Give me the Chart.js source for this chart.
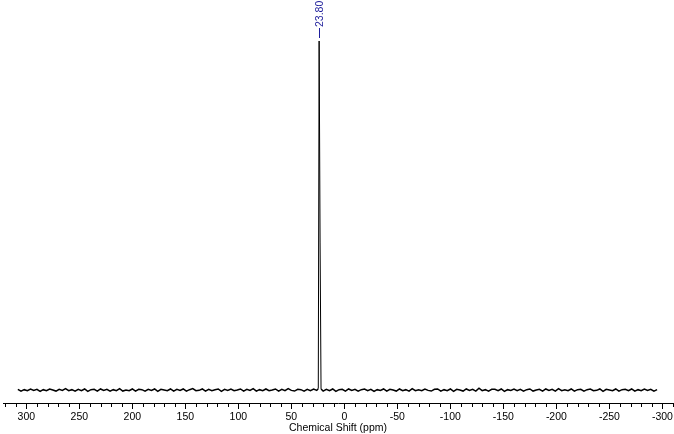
<!DOCTYPE html>
<html>
<head>
<meta charset="utf-8">
<script src="https://cdn.jsdelivr.net/npm/chart.js@4/dist/chart.umd.min.js"></script>
<style>
html,body{margin:0;padding:0;background:#fff;}
canvas{display:block;}
</style>
</head>
<body>
<canvas id="c" width="674" height="434"></canvas>
<script>
// Chemical shift (ppm) of each sampled point
const ppm = [
  308,305,302,299,296,293,290,287,284,281,
  278,275,272,269,266,263,260,257,254,251,
  248,245,242,239,236,233,230,227,224,221,
  218,215,212,209,206,203,200,197,194,191,
  188,185,182,179,176,173,170,167,164,161,
  158,155,152,149,146,143,140,137,134,131,
  128,125,122,119,116,113,110,107,104,101,
  98,95,92,89,86,83,80,77,74,71,
  68,65,62,59,56,53,50,47,44,41,
  38,35,32,29,26,24.6,23.8,22.9,22.0,20,
  17,14,11,8,5,2,-1,-4,-7,-10,
  -13,-16,-19,-22,-25,-28,-31,-34,-37,-40,
  -43,-46,-49,-52,-55,-58,-61,-64,-67,-70,
  -73,-76,-79,-82,-85,-88,-91,-94,-97,-100,
  -103,-106,-109,-112,-115,-118,-121,-124,-127,-130,
  -133,-136,-139,-142,-145,-148,-151,-154,-157,-160,
  -163,-166,-169,-172,-175,-178,-181,-184,-187,-190,
  -193,-196,-199,-202,-205,-208,-211,-214,-217,-220,
  -223,-226,-229,-232,-235,-238,-241,-244,-247,-250,
  -253,-256,-259,-262,-265,-268,-271,-274,-277,-280,
  -283,-286,-289,-292,-295
];
// Relative intensity at each point
const intensity = [
  0.2,-0.3,0.1,-0.2,0.3,-0.1,0.2,-0.4,0.1,-0.2,
  0.3,0.0,-0.3,0.2,-0.1,0.4,-0.2,0.1,-0.3,0.2,
  -0.2,0.3,-0.4,0.1,0.2,-0.3,0.3,-0.1,0.2,-0.3,
  0.1,-0.2,0.4,-0.3,0.0,-0.2,0.3,-0.3,0.2,0.1,
  -0.3,0.2,-0.1,0.3,-0.4,0.2,0.0,-0.2,0.3,-0.3,
  0.2,-0.1,0.3,-0.3,0.1,0.4,-0.2,-0.1,0.3,-0.3,
  0.2,-0.2,0.1,0.3,-0.4,0.2,-0.1,0.3,-0.2,0.0,
  0.3,-0.3,0.2,-0.1,0.4,-0.3,0.1,-0.2,0.3,-0.2,
  0.0,0.3,-0.3,0.2,-0.2,0.4,-0.1,-0.3,0.2,0.1,
  -0.3,0.2,-0.2,0.3,-0.1,0.4,100,42.4,0.3,-0.3,
  0.2,-0.2,0.3,-0.4,0.1,0.2,-0.3,0.3,-0.1,0.2,
  -0.3,0.1,0.3,-0.2,0.2,-0.4,0.1,-0.1,0.3,-0.3,
  0.2,0.0,-0.3,0.3,-0.2,0.1,-0.3,0.4,-0.2,0.1,
  -0.2,0.3,-0.1,-0.3,0.2,0.3,-0.3,0.1,-0.2,0.3,
  -0.4,0.2,0.0,-0.3,0.3,-0.1,0.2,-0.3,0.5,-0.2,
  0.1,-0.3,0.2,0.2,-0.2,0.3,-0.4,0.1,-0.1,0.3,
  -0.2,0.2,-0.3,0.1,0.3,-0.3,0.0,0.2,-0.3,0.3,
  -0.1,0.2,-0.3,0.4,-0.2,0.1,-0.2,0.3,-0.3,0.1,
  0.2,-0.3,0.1,0.3,-0.2,-0.1,0.3,-0.4,0.2,0.0,
  -0.2,0.3,-0.3,0.1,0.2,-0.2,0.3,-0.3,0.1,-0.2,
  0.3,-0.1,0.2,-0.3,0.1
];
// Peak annotation
const peakPpm = [23.8];
const peakLabels = ['23.80'];
// Axis settings
const tickValues = [300,250,200,150,100,50,0,-50,-100,-150,-200,-250,-300];
const axisMin = -310, axisMax = 322;
const labelStep = 50, minorStep = 10;
const axisTitle = 'Chemical Shift (ppm)';

const FONT = "'Liberation Sans', Arial, sans-serif";

const points = ppm.map((p, i) => ({x: p, y: intensity[i]}));

const tickPlugin = {
  id: 'nmrTicks',
  afterDraw(chart) {
    const xs = chart.scales.x;
    const ctx = chart.ctx;
    const y0 = chart.chartArea.bottom;
    ctx.save();
    ctx.strokeStyle = '#000';
    ctx.lineWidth = 1;
    ctx.beginPath();
    const start = Math.ceil(axisMin / minorStep) * minorStep;
    for (let v = start; v <= axisMax; v += minorStep) {
      const px = Math.round(xs.getPixelForValue(v)) + 0.5;
      const len = (v % labelStep === 0) ? 6 : 4;
      ctx.moveTo(px, y0);
      ctx.lineTo(px, y0 + len);
    }
    ctx.stroke();
    // peak labels
    ctx.strokeStyle = '#1f1f9c';
    ctx.fillStyle = '#1f1f9c';
    ctx.font = '10.5px ' + FONT;
    peakPpm.forEach((p, i) => {
      const px = Math.round(xs.getPixelForValue(p)) + 0.5;
      ctx.beginPath();
      ctx.moveTo(px, 28);
      ctx.lineTo(px, 38);
      ctx.stroke();
      ctx.save();
      ctx.translate(px + 0.5, 27);
      ctx.rotate(-Math.PI / 2);
      ctx.textAlign = 'left';
      ctx.textBaseline = 'middle';
      ctx.fillText(peakLabels[i], 0, 0);
      ctx.restore();
    });
    ctx.restore();
  }
};

new Chart(document.getElementById('c'), {
  type: 'line',
  data: {
    datasets: [{
      data: points,
      borderColor: '#000',
      borderWidth: 1.5,
      pointRadius: 0,
      tension: 0,
      fill: false,
      segment: {
        borderWidth: (c) => (Math.abs(c.p0.parsed.y) > 5 || Math.abs(c.p1.parsed.y) > 5) ? 1 : 1.5
      }
    }]
  },
  options: {
    responsive: false,
    animation: false,
    devicePixelRatio: 1,
    layout: {padding: {left: 3, right: 1, top: 30, bottom: 0}},
    plugins: {legend: {display: false}, tooltip: {enabled: false}},
    scales: {
      x: {
        type: 'linear',
        reverse: true,
        min: axisMin,
        max: axisMax,
        afterBuildTicks: (scale) => { scale.ticks = tickValues.map(v => ({value: v})); },
        afterFit: (scale) => { scale.paddingLeft = 0; scale.paddingRight = 0; scale.height = 31; },
        border: {display: true, color: '#000', width: 1},
        grid: {display: true, drawOnChartArea: false, tickLength: 4, tickColor: 'rgba(0,0,0,0)'},
        ticks: {
          autoSkip: false,
          maxRotation: 0,
          padding: 5,
          color: '#000',
          font: {family: FONT, size: 10.5, lineHeight: 1.0},
          callback: (v) => String(v)
        },
        title: {
          display: true,
          text: axisTitle,
          color: '#000',
          font: {family: FONT, size: 10.5},
          padding: {top: 0, bottom: 0}
        }
      },
      y: {
        display: false,
        min: -3.72,
        max: 103.15
      }
    }
  },
  plugins: [tickPlugin]
});
</script>
</body>
</html>
